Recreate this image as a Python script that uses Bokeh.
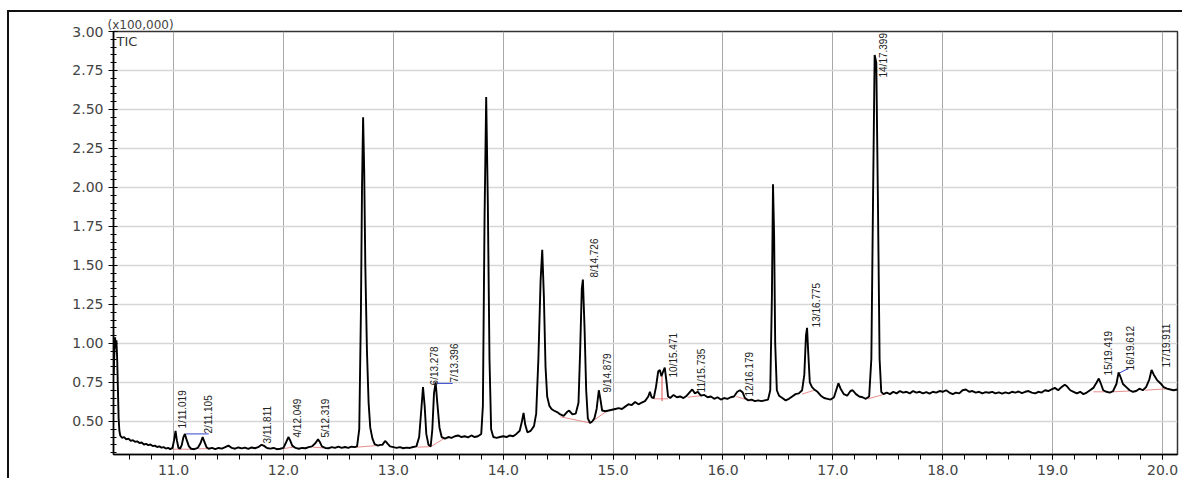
from bokeh.plotting import figure
from bokeh.models import FixedTicker, NumeralTickFormatter, Range1d, Label, ColumnDataSource
from bokeh.core.properties import value
from bokeh.embed import file_html
from bokeh.resources import INLINE

# ---- chromatogram trace (retention time, min) / TIC (x100,000) ----
rt = [
    10.455, 10.462, 10.468, 10.474, 10.480, 10.487, 10.494, 10.500, 10.507, 10.515,
    10.53, 10.55, 10.57, 10.59, 10.61, 10.63, 10.65, 10.67, 10.69, 10.71,
    10.73, 10.75, 10.77, 10.79, 10.81, 10.83, 10.85, 10.87, 10.89, 10.91,
    10.93, 10.95, 10.97, 10.99, 11.005, 11.018, 11.03, 11.045, 11.06, 11.075,
    11.09, 11.103, 11.12, 11.14, 11.16, 11.19, 11.22, 11.245, 11.265, 11.28,
    11.30, 11.32, 11.35, 11.38, 11.41, 11.44, 11.47, 11.50, 11.53, 11.56,
    11.59, 11.62, 11.65, 11.68, 11.71, 11.74, 11.77, 11.80, 11.82, 11.85,
    11.88, 11.91, 11.94, 11.97, 12.00, 12.02, 12.045, 12.06, 12.08, 12.11,
    12.14, 12.17, 12.20, 12.23, 12.26, 12.29, 12.315, 12.33, 12.35, 12.38,
    12.41, 12.44, 12.47, 12.50, 12.53, 12.56, 12.59, 12.62, 12.65, 12.67,
    12.69, 12.705, 12.715, 12.725, 12.735, 12.745, 12.76, 12.775, 12.79, 12.81,
    12.83, 12.86, 12.88, 12.90, 12.925, 12.945, 12.97, 13.00, 13.03, 13.06,
    13.09, 13.12, 13.15, 13.18, 13.21, 13.235, 13.255, 13.27, 13.285, 13.30,
    13.32, 13.34, 13.355, 13.37, 13.385, 13.40, 13.42, 13.44, 13.47, 13.50,
    13.53, 13.56, 13.59, 13.62, 13.65, 13.68, 13.71, 13.74, 13.77, 13.80,
    13.815, 13.83, 13.845, 13.86, 13.875, 13.89, 13.91, 13.94, 13.97, 14.00,
    14.03, 14.06, 14.09, 14.12, 14.15, 14.17, 14.185, 14.20, 14.22, 14.25,
    14.28, 14.30, 14.32, 14.34, 14.355, 14.37, 14.385, 14.40, 14.42, 14.44,
    14.46, 14.49, 14.52, 14.55, 14.58, 14.60, 14.63, 14.66, 14.685, 14.70,
    14.715, 14.725, 14.74, 14.755, 14.77, 14.79, 14.81, 14.83, 14.85, 14.87,
    14.885, 14.90, 14.93, 14.96, 14.99, 15.02, 15.05, 15.08, 15.11, 15.14,
    15.17, 15.20, 15.23, 15.26, 15.29, 15.32, 15.335, 15.35, 15.37, 15.39,
    15.41, 15.425, 15.44, 15.455, 15.47, 15.485, 15.50, 15.52, 15.55, 15.58,
    15.61, 15.64, 15.67, 15.70, 15.72, 15.745, 15.77, 15.80, 15.83, 15.86,
    15.89, 15.92, 15.95, 15.98, 16.01, 16.04, 16.07, 16.10, 16.13, 16.155,
    16.18, 16.20, 16.23, 16.26, 16.29, 16.32, 16.35, 16.38, 16.41, 16.43,
    16.445, 16.455, 16.465, 16.475, 16.49, 16.51, 16.54, 16.57, 16.60, 16.63,
    16.66, 16.69, 16.72, 16.74, 16.755, 16.765, 16.775, 16.79, 16.81, 16.83,
    16.86, 16.89, 16.92, 16.95, 16.98, 17.01, 17.03, 17.05, 17.07, 17.10,
    17.13, 17.16, 17.18, 17.21, 17.24, 17.27, 17.30, 17.33, 17.35, 17.365,
    17.38, 17.395, 17.41, 17.425, 17.44, 17.46, 17.49, 17.52, 17.55, 17.58,
    17.61, 17.64, 17.67, 17.70, 17.73, 17.76, 17.79, 17.82, 17.85, 17.88,
    17.91, 17.94, 17.97, 18.00, 18.03, 18.06, 18.09, 18.12, 18.15, 18.18,
    18.21, 18.24, 18.27, 18.30, 18.33, 18.36, 18.39, 18.42, 18.45, 18.48,
    18.51, 18.54, 18.57, 18.60, 18.63, 18.66, 18.69, 18.72, 18.75, 18.78,
    18.81, 18.84, 18.87, 18.90, 18.93, 18.96, 18.99, 19.02, 19.05, 19.08,
    19.11, 19.13, 19.16, 19.19, 19.22, 19.25, 19.28, 19.31, 19.34, 19.37,
    19.40, 19.42, 19.44, 19.46, 19.49, 19.52, 19.55, 19.58, 19.60, 19.62,
    19.64, 19.67, 19.70, 19.73, 19.76, 19.79, 19.82, 19.85, 19.88, 19.90,
    19.92, 19.95, 19.98, 20.01, 20.04, 20.07, 20.10, 20.136,
]
tic = [
    0.80, 0.95, 1.04, 0.97, 1.02, 0.90, 0.70, 0.52, 0.44, 0.41,
    0.395, 0.40, 0.385, 0.39, 0.375, 0.38, 0.37, 0.372, 0.362, 0.365,
    0.352, 0.356, 0.348, 0.352, 0.342, 0.345, 0.336, 0.34, 0.332, 0.335,
    0.326, 0.33, 0.322, 0.33, 0.38, 0.44, 0.38, 0.33, 0.325, 0.35,
    0.40, 0.42, 0.38, 0.34, 0.325, 0.322, 0.33, 0.36, 0.40, 0.37,
    0.335, 0.325, 0.33, 0.322, 0.33, 0.326, 0.335, 0.345, 0.33, 0.325,
    0.333, 0.327, 0.332, 0.324, 0.333, 0.328, 0.335, 0.35, 0.345, 0.33,
    0.326, 0.33, 0.322, 0.325, 0.33, 0.36, 0.40, 0.38, 0.345, 0.33,
    0.325, 0.33, 0.328, 0.335, 0.34, 0.36, 0.385, 0.37, 0.34, 0.33,
    0.328, 0.335, 0.33, 0.338, 0.33, 0.336, 0.33, 0.338, 0.335, 0.34,
    0.45, 1.2, 2.0, 2.45, 2.1, 1.5, 0.95, 0.62, 0.46, 0.39,
    0.355, 0.345, 0.35, 0.35, 0.375, 0.36, 0.34, 0.335, 0.33, 0.335,
    0.328, 0.332, 0.33, 0.336, 0.34, 0.40, 0.58, 0.72, 0.60, 0.42,
    0.35, 0.34, 0.45, 0.68, 0.75, 0.62, 0.46, 0.40, 0.39, 0.40,
    0.395, 0.405, 0.41, 0.40, 0.405, 0.398, 0.41, 0.40, 0.405, 0.42,
    0.6, 1.8, 2.58, 1.9, 0.9, 0.45, 0.40, 0.395, 0.40, 0.405,
    0.40, 0.41, 0.405, 0.42, 0.44, 0.50, 0.555, 0.48, 0.43, 0.44,
    0.47, 0.55, 0.9, 1.4, 1.60, 1.3, 0.85, 0.66, 0.60, 0.58,
    0.57, 0.56, 0.545, 0.535, 0.56, 0.57, 0.545, 0.55, 0.62, 0.95,
    1.35, 1.41, 1.1, 0.7, 0.52, 0.49, 0.50, 0.52, 0.58, 0.70,
    0.64, 0.57, 0.565, 0.57, 0.575, 0.58, 0.585, 0.58, 0.595, 0.61,
    0.605, 0.625, 0.61, 0.62, 0.63, 0.66, 0.69, 0.655, 0.65, 0.72,
    0.82, 0.83, 0.79, 0.82, 0.845, 0.76, 0.66, 0.65, 0.67, 0.655,
    0.66, 0.65, 0.665, 0.69, 0.705, 0.68, 0.69, 0.665, 0.67, 0.655,
    0.66, 0.645, 0.655, 0.64, 0.65, 0.645, 0.655, 0.66, 0.69, 0.70,
    0.685, 0.65, 0.635, 0.64, 0.63, 0.635, 0.63, 0.635, 0.64, 0.70,
    1.3, 2.02, 1.7, 1.0, 0.70, 0.665, 0.65, 0.635, 0.645, 0.66,
    0.675, 0.68, 0.70, 0.80, 1.05, 1.10, 0.95, 0.75, 0.72, 0.705,
    0.69, 0.665, 0.65, 0.645, 0.64, 0.655, 0.70, 0.745, 0.71, 0.675,
    0.665, 0.695, 0.70, 0.675, 0.66, 0.655, 0.645, 0.66, 0.9, 1.9,
    2.85, 2.8, 1.9, 0.9, 0.69, 0.675, 0.685, 0.675, 0.69, 0.68,
    0.695, 0.685, 0.69, 0.68, 0.695, 0.685, 0.69, 0.68, 0.688, 0.678,
    0.69, 0.685, 0.695, 0.69, 0.70, 0.685, 0.675, 0.685, 0.68, 0.70,
    0.705, 0.69, 0.695, 0.685, 0.69, 0.68, 0.688, 0.684, 0.69, 0.68,
    0.686, 0.678, 0.686, 0.68, 0.69, 0.685, 0.692, 0.682, 0.69, 0.695,
    0.685, 0.68, 0.69, 0.685, 0.70, 0.695, 0.705, 0.715, 0.70, 0.72,
    0.735, 0.725, 0.70, 0.69, 0.68, 0.69, 0.675, 0.685, 0.70, 0.715,
    0.75, 0.775, 0.74, 0.70, 0.69, 0.685, 0.695, 0.74, 0.815, 0.78,
    0.74, 0.72, 0.70, 0.69, 0.695, 0.71, 0.70, 0.72, 0.77, 0.83,
    0.80, 0.765, 0.745, 0.72, 0.71, 0.705, 0.70, 0.705,
]

# ---- peak annotations ----
peak_names = ["1/11.019", "2/11.105", "3/11.811", "4/12.049", "5/12.319",
              "6/13.278", "7/13.396", "8/14.726", "9/14.879", "10/15.471",
              "11/15.735", "12/16.179", "13/16.775", "14/17.399", "15/19.419",
              "16/19.612", "17/19.911"]
peak_rt = [11.019, 11.105, 11.811, 12.049, 12.319, 13.278, 13.396, 14.726, 14.879,
           15.471, 15.735, 16.179, 16.775, 17.399, 19.419, 19.612, 19.911]
label_base = [0.455, 0.423, 0.359, 0.397, 0.397, 0.731, 0.750, 1.423, 0.686,
              0.782, 0.686, 0.660, 1.103, 2.705, 0.795, 0.827, 0.846]
label_dx = [7, 23, 5, 9, 7, 11, 18, 11, 8, 9, 8, 7, 8, 7, 10, 11, 14]   # px shift

# integration baselines (red) and label leader lines (blue)
base_x0 = [10.99, 11.06, 11.23, 11.99, 12.27, 12.67, 13.22, 13.34, 14.52, 14.79,
           15.37, 15.68, 16.12, 16.72, 17.32, 19.37, 19.55, 19.84]
base_y0 = [0.322, 0.322, 0.325, 0.325, 0.335, 0.335, 0.335, 0.338, 0.530, 0.490,
           0.645, 0.655, 0.660, 0.675, 0.645, 0.690, 0.690, 0.700]
base_x1 = [11.06, 11.18, 11.31, 12.09, 12.37, 12.84, 13.33, 13.46, 14.79, 14.93,
           15.50, 15.80, 16.26, 16.83, 17.45, 19.48, 19.70, 20.05]
base_y1 = [0.322, 0.322, 0.325, 0.335, 0.330, 0.345, 0.338, 0.390, 0.490, 0.560,
           0.645, 0.665, 0.630, 0.700, 0.670, 0.690, 0.695, 0.710]
drop_x = [15.445]
drop_y0 = [0.63]
drop_y1 = [0.79]
lead_x0 = [11.11, 13.40, 19.612]
lead_y0 = [0.420, 0.744, 0.812]
lead_x1 = [11.32, 13.54, 19.69]
lead_y1 = [0.420, 0.744, 0.840]

x_major = [11.0, 12.0, 13.0, 14.0, 15.0, 16.0, 17.0, 18.0, 19.0, 20.0]
y_major = [0.50, 0.75, 1.00, 1.25, 1.50, 1.75, 2.00, 2.25, 2.50, 2.75, 3.00]

# ---- figure ----
p = figure(width=1175, height=468, output_backend="svg", toolbar_location=None,
           x_range=Range1d(10.4535, 20.136), y_range=Range1d(0.288, 3.0),
           min_border_left=104, min_border_right=7, min_border_top=19,
           min_border_bottom=26, title="(x100,000)")
p.styles = {"border-left": "2px solid #111", "border-top": "2px solid #111",
            "margin-left": "7px", "margin-top": "10px"}
p.title.align = "left"
p.title.offset = -6
p.title.standoff = 0
p.title.text_font = "DejaVu Sans"
p.title.text_font_size = "12px"
p.title.text_font_style = "normal"
p.title.text_color = "#444444"
p.background_fill_color = "white"
p.border_fill_color = "white"
p.outline_line_color = "#333333"
p.outline_line_width = 1.5

x_minor = [round(10.6 + 0.2 * i, 1) for i in range(48)]
y_minor = [round(0.30 + 0.05 * i, 2) for i in range(55)]
p.xaxis.ticker = FixedTicker(ticks=x_major, minor_ticks=x_minor)
p.yaxis.ticker = FixedTicker(ticks=y_major, minor_ticks=y_minor)
p.xaxis.formatter = NumeralTickFormatter(format="0.0")
p.yaxis.formatter = NumeralTickFormatter(format="0.00")

for ax in (p.xaxis, p.yaxis):
    ax.axis_line_color = "black"
    ax.axis_line_width = 1.5
    ax.major_tick_line_color = "black"
    ax.minor_tick_line_color = "black"
    ax.major_label_text_font = "DejaVu Sans"
    ax.major_label_text_font_size = "14px"
    ax.major_label_text_color = "#444444"
    ax.major_label_standoff = 5
p.xaxis.major_tick_in = 0
p.xaxis.major_tick_out = 5
p.xaxis.minor_tick_in = 0
p.xaxis.minor_tick_out = 5
p.yaxis.major_tick_in = 4
p.yaxis.major_tick_out = 5
p.yaxis.minor_tick_in = 3
p.yaxis.minor_tick_out = 3

p.xgrid.ticker = FixedTicker(ticks=x_major)
p.ygrid.ticker = FixedTicker(ticks=y_major)
p.xgrid.grid_line_color = "#a8a8a8"
p.xgrid.grid_line_width = 1
p.ygrid.grid_line_color = "#d6d6d6"
p.ygrid.grid_line_width = 1.5

# baselines
p.segment(base_x0, base_y0, base_x1, base_y1, line_color="#e07070", line_width=1, line_alpha=0.8)
p.segment(drop_x, drop_y0, drop_x, drop_y1, line_color="#e05050", line_width=1)
p.segment(lead_x0, lead_y0, lead_x1, lead_y1, line_color="#3344cc", line_width=1)

# trace
p.line(rt, tic, line_color="black", line_width=1.9)

# peak labels
lab = ColumnDataSource(dict(x=peak_rt, y=label_base, t=peak_names, dx=label_dx))
p.text(x="x", y="y", text="t", x_offset="dx", source=lab, angle=1.5708,
       text_align="left", text_baseline="middle",
       text_font=value("Liberation Sans"), text_font_size="10px", text_color="#222222")

p.add_layout(Label(x=10.4535, y=3.0, x_offset=3, y_offset=-2, text="TIC",
                   text_font="DejaVu Sans", text_font_size="13px",
                   text_color="#333333", text_baseline="top"))

open("out.html", "w").write(file_html(p, INLINE))
